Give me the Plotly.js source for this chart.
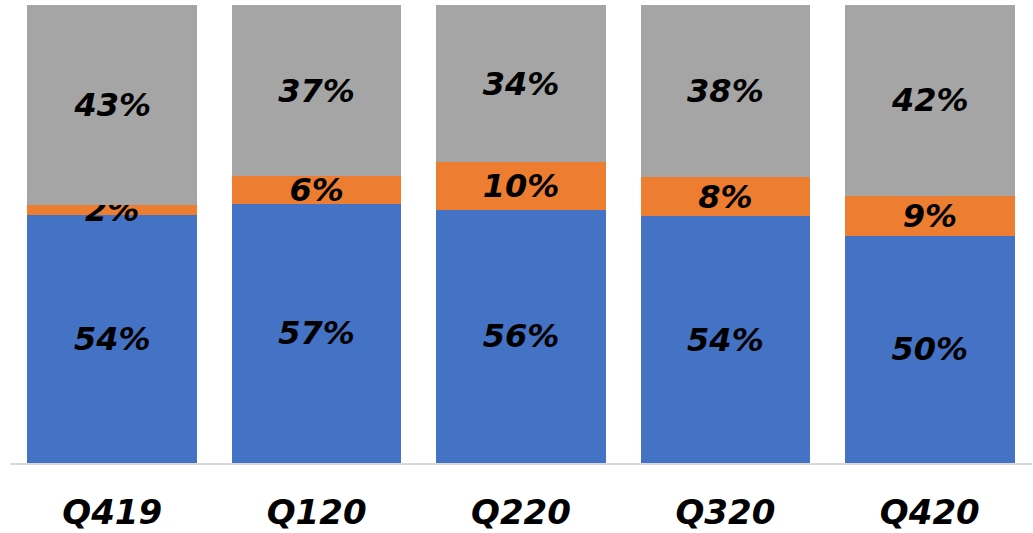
<!DOCTYPE html>
<html>
<head>
<meta charset="utf-8">
<script src="https://cdn.plot.ly/plotly-3.0.1.min.js"></script>
<style>html,body{margin:0;padding:0;background:#fff;}#chart{width:1033px;height:533px;}</style>
</head>
<body>
<div id="chart"></div>
<script>
const categories = ["Q419", "Q120", "Q220", "Q320", "Q420"];
const blueValues = [54.1, 56.6, 55.3, 53.9, 49.6];
const orangeValues = [2.3, 6.0, 10.4, 8.5, 8.7];
const grayValues = [43.6, 37.4, 34.3, 37.6, 41.7];
const blueLabels = ["54%", "57%", "56%", "54%", "50%"];
const orangeLabels = ["2%", "6%", "10%", "8%", "9%"];
const grayLabels = ["43%", "37%", "34%", "38%", "42%"];

const labelFont = {family: "'DejaVu Sans', sans-serif", size: 32, color: "#000000", weight: "bold", style: "italic"};

function series(values, labels, color) {
  return {
    type: "bar",
    x: categories,
    y: values,
    text: labels,
    texttemplate: "%{text}",
    textposition: "inside",
    insidetextanchor: "middle",
    textangle: 0,
    constraintext: "none",
    cliponaxis: false,
    textfont: labelFont,
    insidetextfont: labelFont,
    marker: {color: color, line: {width: 0}},
    hoverinfo: "skip"
  };
}

const data = [
  series(blueValues, blueLabels, "#4472C4"),
  series(orangeValues, orangeLabels, "#ED7D31"),
  series(grayValues, grayLabels, "#A5A5A5")
];

const layout = {
  width: 1033,
  height: 533,
  margin: {l: 10, r: 1, t: 5, b: 70},
  barmode: "stack",
  bargap: 0.17,
  showlegend: false,
  paper_bgcolor: "#ffffff",
  plot_bgcolor: "#ffffff",
  xaxis: {
    showline: true,
    linecolor: "#d9d9d9",
    linewidth: 1.5,
    ticks: "",
    showgrid: false,
    zeroline: false,
    tickfont: {family: "'DejaVu Sans', sans-serif", size: 34, color: "#000000", weight: "bold", style: "italic"},
    ticklabelstandoff: 19
  },
  yaxis: {
    range: [0, 100],
    visible: false,
    showgrid: false,
    zeroline: false,
    fixedrange: true
  }
};

Plotly.newPlot("chart", data, layout, {staticPlot: true, displayModeBar: false});
</script>
</body>
</html>
